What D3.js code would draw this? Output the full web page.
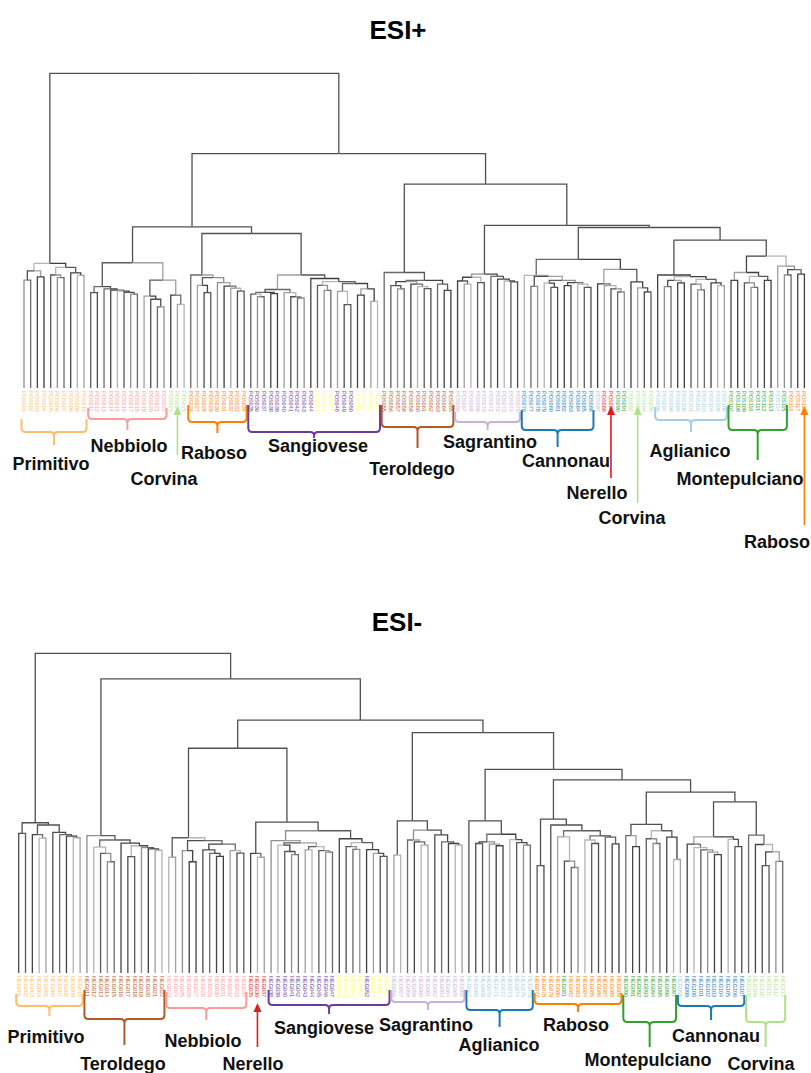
<!DOCTYPE html>
<html><head><meta charset="utf-8">
<script src="https://cdn.jsdelivr.net/npm/d3@7"></script>
<style>body{margin:0;background:#fff}svg{display:block}</style>
</head><body><svg id="chart" width="811" height="1073"></svg>
<script>
// ---------- data ----------
const cultivarCodes  = ["A","C","V","M","N","E","P","R","G","S","Y","T"];
const cultivarNames  = ["Aglianico","Cannonau","Corvina","Montepulciano","Nebbiolo","Nerello","Primitivo","Raboso","Sagrantino","Sangiovese","Other","Teroldego"];
const cultivarColors = ["#a6cee3","#1f78b4","#b2df8a","#33a02c","#fb9a99","#e31a1c","#fdbf6f","#ff7f00","#cab2d6","#6a3d9a","#ffff66","#b15928"];

// ESI+ clades (Newick-like: leaf = cultivar code, number after ")" = merge height, root = 100)
const posPrimitivo  = "(((P,P)34.3,(P,P)35.3)37.2,((P,(P,P)35.1)35.9,(P,(P,P)35.8)36.6)38.3)39.6";
const posNebbiolo   = "(((N,N)30.3,(N,(N,(N,(N,(N,N)29.8)30.4)30.8)31.1)31.5)32.2,((N,(N,(N,N)25.8)28.2)29.2,(V,(V,V)26.6)29.5)34.3)39.8";
const posRaboso     = "(R,((R,(R,R)30.3)32.6,(R,(R,(R,(R,R)30.8)31.7)32.4)33.5)35.1)35.9";
const posSangiovese = "((((S,(S,S)29)29.8,(S,S)30)30.4,(S,(S,(S,S)28.6)29)30.3)31.3,(S,((Y,(Y,Y)31)32.6,((S,(S,S)26.5)30.7,((Y,Y)29.5,(Y,Y)27.5)31.5)33.2)33.8)34.8)35.9";
const posTeroldego  = "(T,(((T,(T,T)31.5)32.5,(T,(T,(T,T)31.6)32.2)33)33.8,(T,(T,T)31)33)34.2)36.7";
const posSagrantino = "(((G,(G,G)33)34,(G,G)33.5)35.2,(G,(G,(G,(G,G)33.7)34)34.6)35.5)36.2";
const posCannonau   = "(C,((C,C)32.3,((C,(C,C)32)33.3,((C,C)32.5,(C,(C,C)32)33)33.5)34.2)35.5)35.8";
const posMixed      = "((G,(E,(E,(M,M)30.5)31.5)32.5)33.1,(V,(V,(V,V)30.5)31.8)33.7)37.7";
const posAglianico  = "(A,(((A,A)32.2,(A,A)33.4)34.2,((A,(A,A)31.2)33,(A,(A,A)32.5)33.4)34.5)35.4)35.9";
const posMontepulc  = "((M,M)34.2,((M,(M,M)32)33.4,(M,M)34.2)35.5)36.7";
const posTail       = "(A,((M,R)35.9,(R,R)36.2)37.6)38.7";
const posTree = "(" + posPrimitivo + ",((" + posNebbiolo + ",(" + posRaboso + "," + posSangiovese + ")49.1)51.2,(" +
  posTeroldego + ",(" + posSagrantino + ",((" + posCannonau + "," + posMixed + ")40.9,(" + posAglianico + ",(" +
  posMontepulc + "," + posTail + ")41.9)47)51)51.7)64.8)74.5)100";

// ESI- clades
const negPrimitivo  = "((P,P)43.7,((P,(P,P)42.2)43.3,(P,(P,(P,(P,P)42.3)42.8)43.3)44)46.3)47";
const negTeroldego  = "(T,((T,(T,(T,T)34.8)37.4)39.4,(T,((T,T)36.4,(T,(T,(T,T)38.4)38.8)39.2)39.8)40.6)41.6)43";
const negNebbiolo   = "((N,N)36.2,((N,(N,N)34.8)38.3,((N,(N,(N,N)36.5)37.4)38.5,(N,(N,N)37.5)38.3)40.3)41.4)42.3";
const negNerello    = "(E,(E,E)36.2)37.4";
const negSangiovese = "((S,((S,(S,(S,S)37)38)40,((S,S)38.5,(S,(S,S)37.8)38.3)39.5)40.7)41.4,(Y,((Y,(Y,Y)38.7)39.5,(S,(Y,(Y,Y)36.5)37.4)38.6)40.8)42)44.5";
const negSagrantino = "((G,G)36.9,((G,(G,(G,G)40)41)41.6,(G,(G,(G,(G,G)40)40.5)41)43.2)44.7)47.6";
const negAglianico  = "(A,(((A,A)40.5,(A,(A,A)39.8)40.3)41,(A,(A,(A,A)40)40.8)41.7)43.4)47.6";
const negRaboso     = "((R,R)33.6,(R,((R,(M,(R,R)33)35)42.6,((R,(R,R)40.5)41.6,(R,(R,R)40.4)42.5)42.9)44.5)46.3)48.1";
const negMontepulc  = "((M,(M,M)39.5)43,((M,(M,M)40.5)42,(M,(M,A)35.5)42.5)44.5)46.5";
const negCannonau   = "((C,(C,(C,(C,(C,C)37)37.8)38.5)39.2)40.3,(C,(C,C)39.5)41.8)42.6";
const negCorvina    = "(V,(V,((V,V)33.6,(V,V)34.9)37.9)40.2)43.1";
const negTree = "(" + negPrimitivo + ",(" + negTeroldego + ",((" + negNebbiolo + ",(" + negNerello + "," + negSangiovese +
  ")47.2)70.3,(" + negSagrantino + ",(" + negAglianico + ",(" + negRaboso + ",(" + negMontepulc + ",(" + negCannonau + "," +
  negCorvina + ")53.5)56.6)60.4)63.7)75.2)79.1)92)100";

// annotations: name, type, first leaf, last leaf, colour code
const posAnnots = [
  ["Primitivo","brace",0,9,"P"],["Nebbiolo","brace",10,21,"N"],["Corvina","arrow",23,23,"V"],
  ["Raboso","brace",25,33,"R"],["Sangiovese","brace",34,53,"S"],["Teroldego","brace",54,64,"T"],
  ["Sagrantino","brace",65,74,"G"],["Cannonau","brace",75,85,"C"],["Nerello","arrow",88,88,"E"],
  ["Corvina","arrow",92,92,"V"],["Aglianico","brace",95,105,"A"],["Montepulciano","brace",106,114,"M"],
  ["Raboso","arrow",117,117,"R"]
];
const negAnnots = [
  ["Primitivo","brace",0,9,"P"],["Teroldego","brace",10,21,"T"],["Nebbiolo","brace",22,33,"N"],
  ["Nerello","arrow",35,35,"E"],["Sangiovese","brace",37,54,"S"],["Sagrantino","brace",55,65,"G"],
  ["Aglianico","brace",66,75,"C"],["Raboso","brace",76,88,"R"],["Montepulciano","brace",89,96,"M"],
  ["Cannonau","brace",97,106,"C"],["Corvina","brace",107,112,"V"]
];

// ---------- layout (positions only) ----------
// [top, bar, stem, textX, textY(center)]
const posAnnotPos = [
  [419,432,445,51,463],[408,419,430,129,445],[406,0,455,164,478],[405,422,433,214,452],[405,432,438,318,445],
  [405,427,448,412,468],[412,422,430,490,441],[410,430,447,566,460],[406,0,478,597,492],[406,0,503,632,517],
  [407,420,432,690,450],[405,430,460,740,478],[406,0,525,777,541]
];
const negAnnotPos = [
  [994,1006,1016,46,1036],[990,1019,1045,123,1063],[992,1008,1020,203,1040],[1003,0,1047,253,1063],
  [990,1005,1014,324,1027],[990,1002,1010,426,1024],[990,1010,1027,499,1044],[993,1004,1012,576,1024],
  [995,1022,1047,648,1059],[995,1006,1020,716,1035],[995,1022,1047,761,1063]
];

const svg = d3.select("#chart");
const colorOf = d3.scaleOrdinal().domain(cultivarCodes).range(cultivarColors);
const grays = ["#3f3f3f","#8f8f8f","#5a5a5a","#b5b5b5","#444444","#6a6a6a","#4d4d4d","#a0a0a0"];
const FONT = "Liberation Sans, Arial, sans-serif";

function parseTree(s){
  let i = 0;
  function node(){
    if (s[i] === "("){
      i++; const a = node(); i++; const b = node(); i++;
      const j = i; while (i < s.length && /[0-9.]/.test(s[i])) i++;
      return {children:[a,b], h:+s.slice(j,i)};
    }
    const c = s[i]; i++; return {code:c, h:0};
  }
  return node();
}

function drawDendro(cfg){
  const root = parseTree(cfg.tree);
  const leaves = [];
  (function walk(n){ if (n.children) n.children.forEach(walk); else { n.index = leaves.length; leaves.push(n); } })(root);
  const x = d3.scaleLinear().domain([0, leaves.length-1]).range(cfg.xRange);
  const y = d3.scaleLinear().domain([0, 100]).range([cfg.base, cfg.rootY]);
  (function pos(n){ if (n.children){ n.children.forEach(pos); n.x = d3.mean(n.children, c => c.x); } else n.x = x(n.index); })(root);
  const links = [];
  (function collect(n){ if (!n.children) return; n.children.forEach(c => { links.push({p:n, c}); collect(c); }); })(root);
  const g = svg.append("g");
  g.selectAll("path.link").data(links).join("path")
    .attr("class","link")
    .attr("fill","none")
    .attr("stroke",(d,k) => d.p.h > 45 ? "#505050" : grays[(k*3 + (d.c.index||0)) % grays.length])
    .attr("stroke-width",1.3)
    .attr("d", d => `M${d.c.x},${y(d.c.h)}V${y(d.p.h)}H${d.p.x}`);
  g.selectAll("text.leaf").data(leaves).join("text")
    .attr("class","leaf")
    .attr("transform", d => `translate(${x(d.index)-2},${cfg.base+3}) rotate(90)`)
    .attr("font-family",FONT)
    .attr("font-size",5.5)
    .attr("fill", d => colorOf(d.code))
    .text((d,k) => cfg.prefix + String(k+1).padStart(3,"0"));
  cfg.annots.forEach((a,k) => {
    const [name, type, from, to, code] = a;
    const [top, bar, stem, tx, ty] = cfg.annotPos[k];
    const col = colorOf(code);
    if (type === "brace"){
      const xs = x(from)-2.5, xe = x(to)+2.5, xc = (xs+xe)/2, r = 4;
      g.append("path").attr("fill","none").attr("stroke",col).attr("stroke-width",2)
        .attr("d",`M${xs},${top}V${bar-r}Q${xs},${bar} ${xs+r},${bar}H${xc-r}Q${xc},${bar} ${xc},${bar+r}V${stem}`+
                  `M${xe},${top}V${bar-r}Q${xe},${bar} ${xe-r},${bar}H${xc+r}Q${xc},${bar} ${xc},${bar+r}`);
    } else {
      const xa = x(from);
      g.append("line").attr("x1",xa).attr("x2",xa).attr("y1",stem).attr("y2",top+6)
        .attr("stroke",col).attr("stroke-width",1.6);
      g.append("path").attr("fill",col).attr("d",`M${xa},${top}L${xa-4},${top+9}L${xa+4},${top+9}Z`);
    }
    g.append("text").attr("x",tx).attr("y",ty+6.5).attr("text-anchor","middle")
      .attr("font-family",FONT).attr("font-weight","bold")
      .attr("font-size",18).attr("fill","#111").text(name);
  });
  svg.append("text").attr("x",cfg.titleX).attr("y",cfg.titleY).attr("text-anchor","middle")
    .attr("font-family",FONT).attr("font-weight","bold")
    .attr("font-size",26).attr("fill","#000").text(cfg.title);
}

drawDendro({tree:posTree, xRange:[24,804.4], base:388, rootY:73.3, prefix:"POS", annots:posAnnots, annotPos:posAnnotPos,
            title:"ESI+", titleX:398, titleY:39});
drawDendro({tree:negTree, xRange:[18.7,782.7], base:973, rootY:653.3, prefix:"NEG", annots:negAnnots, annotPos:negAnnotPos,
            title:"ESI-", titleX:397, titleY:631});
</script></body></html>
